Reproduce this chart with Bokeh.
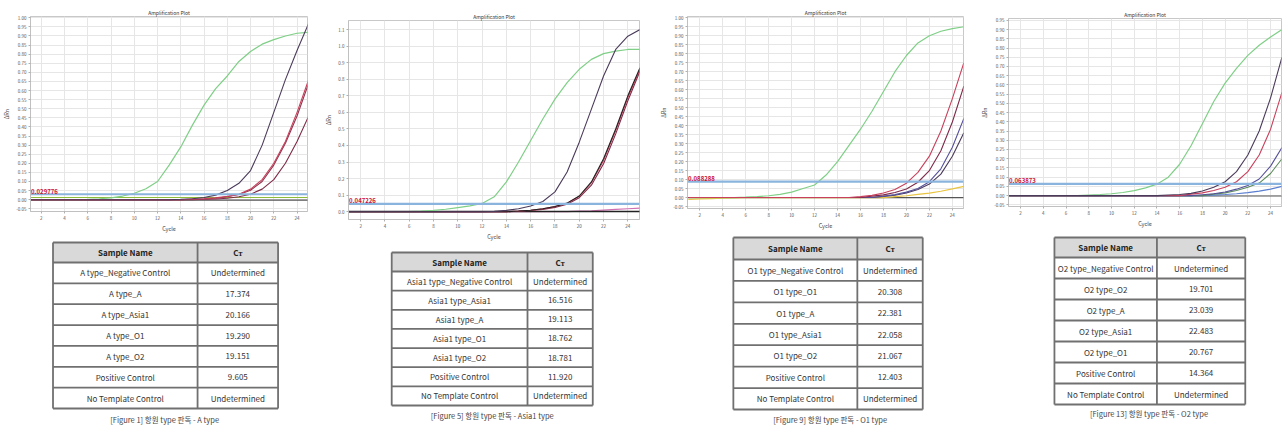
from bokeh.plotting import figure
from bokeh.layouts import row, column
from bokeh.models import Range1d, FixedTicker, PrintfTickFormatter
from bokeh.embed import file_html
from bokeh.resources import INLINE
from bokeh.core.properties import value

FONT = "Noto Sans CJK KR"

cycles = [1, 2, 3, 4, 5, 6, 7, 8, 9, 10, 11, 12, 13, 14, 15, 16, 17, 18, 19, 20, 21, 22, 23, 24, 25]
x_ticks = [2, 4, 6, 8, 10, 12, 14, 16, 18, 20, 22, 24]
y_ticks_a = [-0.05, 0.0, 0.05, 0.1, 0.15, 0.2, 0.25, 0.3, 0.35, 0.4, 0.45, 0.5, 0.55, 0.6, 0.65, 0.7, 0.75, 0.8, 0.85, 0.9, 0.95, 1.0]
y_ticks_asia1 = [0.0, 0.1, 0.2, 0.3, 0.4, 0.5, 0.6, 0.7, 0.8, 0.9, 1.0, 1.1]
y_ticks_o2 = [-0.05, 0.0, 0.05, 0.1, 0.15, 0.2, 0.25, 0.3, 0.35, 0.4, 0.45, 0.5, 0.55, 0.6, 0.65, 0.7, 0.75, 0.8, 0.85, 0.9, 0.95]

# ---------------- Panel 1: A type ----------------
a_pc    = [0.0, 0.0, 0.0, 0.0, 0.0, 0.002, 0.005, 0.010, 0.020, 0.035, 0.060, 0.100, 0.190, 0.290, 0.410, 0.520, 0.610, 0.680, 0.760, 0.815, 0.855, 0.880, 0.900, 0.915, 0.920]
a_A     = [0.0, 0.0, 0.0, 0.0, 0.0, 0.0, 0.0, 0.0, 0.0, 0.0, 0.0, 0.0, 0.0, 0.002, 0.005, 0.012, 0.025, 0.050, 0.090, 0.160, 0.300, 0.480, 0.660, 0.820, 0.970]
a_O2    = [0.0, 0.0, 0.0, 0.0, 0.0, 0.0, 0.0, 0.0, 0.0, 0.0, 0.0, 0.0, 0.0, 0.0, 0.003, 0.005, 0.010, 0.018, 0.030, 0.058, 0.110, 0.200, 0.320, 0.480, 0.660]
a_O1    = [0.0, 0.0, 0.0, 0.0, 0.0, 0.0, 0.0, 0.0, 0.0, 0.0, 0.0, 0.0, 0.0, 0.0, 0.002, 0.004, 0.008, 0.016, 0.028, 0.052, 0.100, 0.190, 0.310, 0.460, 0.640]
a_Asia1 = [0.0, 0.0, 0.0, 0.0, 0.0, 0.0, 0.0, 0.0, 0.0, 0.0, 0.0, 0.0, 0.0, 0.0, 0.0, 0.002, 0.004, 0.008, 0.016, 0.030, 0.058, 0.110, 0.200, 0.320, 0.460]
a_NC    = [0.012, 0.012, 0.012, 0.012, 0.012, 0.012, 0.012, 0.012, 0.012, 0.012, 0.012, 0.012, 0.012, 0.012, 0.012, 0.012, 0.012, 0.012, 0.012, 0.012, 0.012, 0.012, 0.012, 0.012, 0.012]
a_NTC   = [-0.002, -0.002, -0.002, -0.002, -0.002, -0.002, -0.002, -0.002, -0.002, -0.002, -0.002, -0.002, -0.002, -0.002, -0.002, -0.002, -0.002, -0.002, -0.002, -0.002, -0.002, -0.002, -0.002, -0.002, -0.002]
a_threshold = 0.029776
a_names = ["A type_Negative Control", "A type_A", "A type_Asia1", "A type_O1", "A type_O2", "Positive Control", "No Template Control"]
a_ct = ["Undetermined", "17.374", "20.166", "19.290", "19.151", "9.605", "Undetermined"]

# ---------------- Panel 2: Asia1 type ----------------
s_pc    = [0.0, 0.0, 0.0, 0.0, 0.0, 0.0, 0.003, 0.008, 0.015, 0.025, 0.035, 0.050, 0.090, 0.180, 0.300, 0.430, 0.560, 0.680, 0.780, 0.860, 0.920, 0.955, 0.970, 0.980, 0.980]
s_Asia1 = [0.0, 0.0, 0.0, 0.0, 0.0, 0.0, 0.0, 0.0, 0.0, 0.0, 0.0, 0.0, 0.002, 0.008, 0.018, 0.035, 0.062, 0.120, 0.240, 0.420, 0.620, 0.820, 0.980, 1.060, 1.100]
s_O1    = [0.0, 0.0, 0.0, 0.0, 0.0, 0.0, 0.0, 0.0, 0.0, 0.0, 0.0, 0.0, 0.0, 0.0, 0.004, 0.009, 0.018, 0.032, 0.052, 0.095, 0.180, 0.320, 0.500, 0.700, 0.870]
s_O2    = [0.0, 0.0, 0.0, 0.0, 0.0, 0.0, 0.0, 0.0, 0.0, 0.0, 0.0, 0.0, 0.0, 0.0, 0.004, 0.009, 0.017, 0.031, 0.051, 0.093, 0.175, 0.310, 0.490, 0.690, 0.860]
s_A     = [0.0, 0.0, 0.0, 0.0, 0.0, 0.0, 0.0, 0.0, 0.0, 0.0, 0.0, 0.0, 0.0, 0.0, 0.003, 0.007, 0.014, 0.026, 0.045, 0.085, 0.160, 0.290, 0.470, 0.670, 0.850]
s_NC    = [0.0, 0.0, 0.0, 0.0, 0.0, 0.0, 0.0, 0.0, 0.0, 0.0, 0.0, 0.0, 0.0, 0.0, 0.0, 0.0, 0.0, 0.0, 0.0, 0.003, 0.006, 0.010, 0.014, 0.018, 0.022]
s_NTC   = [0.001, 0.001, 0.001, 0.001, 0.001, 0.001, 0.001, 0.001, 0.001, 0.001, 0.001, 0.001, 0.001, 0.001, 0.001, 0.001, 0.001, 0.001, 0.001, 0.001, 0.001, 0.001, 0.001, 0.001, 0.001]
s_threshold = 0.047226
s_names = ["Asia1 type_Negative Control", "Asia1 type_Asia1", "Asia1 type_A", "Asia1 type_O1", "Asia1 type_O2", "Positive Control", "No Template Control"]
s_ct = ["Undetermined", "16.516", "19.113", "18.762", "18.781", "11.920", "Undetermined"]

# ---------------- Panel 3: O1 type ----------------
o1_pc    = [0.0, 0.0, 0.0, 0.0, 0.0, 0.002, 0.005, 0.010, 0.018, 0.030, 0.050, 0.070, 0.125, 0.200, 0.290, 0.380, 0.480, 0.590, 0.700, 0.790, 0.860, 0.900, 0.925, 0.940, 0.950]
o1_O1    = [0.0, 0.0, 0.0, 0.0, 0.0, 0.0, 0.0, 0.0, 0.0, 0.0, 0.0, 0.0, 0.0, 0.0, 0.0, 0.005, 0.012, 0.025, 0.045, 0.080, 0.140, 0.230, 0.370, 0.550, 0.750]
o1_O2    = [0.0, 0.0, 0.0, 0.0, 0.0, 0.0, 0.0, 0.0, 0.0, 0.0, 0.0, 0.0, 0.0, 0.0, 0.0, 0.0, 0.008, 0.015, 0.028, 0.048, 0.085, 0.150, 0.260, 0.420, 0.620]
o1_Asia1 = [0.0, 0.0, 0.0, 0.0, 0.0, 0.0, 0.0, 0.0, 0.0, 0.0, 0.0, 0.0, 0.0, 0.0, 0.0, 0.0, 0.0, 0.008, 0.016, 0.030, 0.050, 0.088, 0.160, 0.280, 0.440]
o1_A     = [0.0, 0.0, 0.0, 0.0, 0.0, 0.0, 0.0, 0.0, 0.0, 0.0, 0.0, 0.0, 0.0, 0.0, 0.0, 0.0, 0.0, 0.006, 0.013, 0.025, 0.045, 0.075, 0.130, 0.230, 0.360]
o1_NC    = [-0.010, -0.008, -0.006, -0.004, -0.002, 0.0, 0.0, 0.0, 0.0, 0.0, 0.0, 0.0, 0.0, 0.0, 0.0, 0.0, 0.0, 0.0, 0.005, 0.010, 0.018, 0.025, 0.035, 0.048, 0.062]
o1_NTC   = [0.0, 0.0, 0.0, 0.0, 0.0, 0.0, 0.0, 0.0, 0.0, 0.0, 0.0, 0.0, 0.0, 0.0, 0.0, 0.0, 0.0, 0.0, 0.0, 0.0, 0.0, 0.0, 0.0, 0.0, 0.0]
o1_threshold = 0.088288
o1_names = ["O1 type_Negative Control", "O1 type_O1", "O1 type_A", "O1 type_Asia1", "O1 type_O2", "Positive Control", "No Template Control"]
o1_ct = ["Undetermined", "20.308", "22.381", "22.058", "21.067", "12.403", "Undetermined"]

# ---------------- Panel 4: O2 type ----------------
o2_pc    = [0.0, 0.0, 0.0, 0.0, 0.0, 0.0, 0.0, 0.003, 0.006, 0.010, 0.017, 0.027, 0.042, 0.062, 0.100, 0.170, 0.270, 0.390, 0.510, 0.610, 0.690, 0.760, 0.815, 0.860, 0.900]
o2_O2    = [0.0, 0.0, 0.0, 0.0, 0.0, 0.0, 0.0, 0.0, 0.0, 0.0, 0.0, 0.0, 0.0, 0.0, 0.003, 0.006, 0.012, 0.025, 0.045, 0.075, 0.130, 0.220, 0.350, 0.530, 0.750]
o2_O1    = [0.0, 0.0, 0.0, 0.0, 0.0, 0.0, 0.0, 0.0, 0.0, 0.0, 0.0, 0.0, 0.0, 0.0, 0.0, 0.0, 0.008, 0.015, 0.028, 0.045, 0.075, 0.130, 0.220, 0.360, 0.560]
o2_Asia1 = [0.0, 0.0, 0.0, 0.0, 0.0, 0.0, 0.0, 0.0, 0.0, 0.0, 0.0, 0.0, 0.0, 0.0, 0.0, 0.0, 0.0, 0.005, 0.010, 0.020, 0.035, 0.055, 0.090, 0.160, 0.260]
o2_A     = [0.0, 0.0, 0.0, 0.0, 0.0, 0.0, 0.0, 0.0, 0.0, 0.0, 0.0, 0.0, 0.0, 0.0, 0.0, 0.0, 0.0, 0.0, 0.008, 0.015, 0.028, 0.045, 0.068, 0.120, 0.200]
o2_NC    = [0.0, 0.0, 0.0, 0.0, 0.0, 0.0, 0.0, 0.0, 0.0, 0.0, 0.0, 0.0, 0.0, 0.0, 0.0, 0.0, 0.0, 0.0, 0.003, 0.006, 0.010, 0.016, 0.024, 0.035, 0.050]
o2_NTC   = [-0.002, -0.002, -0.002, -0.002, -0.002, -0.002, -0.002, -0.002, -0.002, -0.002, -0.002, -0.002, -0.002, -0.002, -0.002, -0.002, -0.002, -0.002, -0.002, -0.002, -0.002, -0.002, -0.002, -0.002, -0.002]
o2_threshold = 0.063873
o2_names = ["O2 type_Negative Control", "O2 type_O2", "O2 type_A", "O2 type_Asia1", "O2 type_O1", "Positive Control", "No Template Control"]
o2_ct = ["Undetermined", "19.701", "23.039", "22.483", "20.767", "14.364", "Undetermined"]

captions = ["[Figure 1] 항원 type 판독 - A type", "[Figure 5] 항원 type 판독 - Asia1 type",
            "[Figure 9] 항원 type 판독 - O1 type", "[Figure 13] 항원 type 판독 - O2 type"]

GREEN = "#7fcf86"
DARK = "#4b3b5b"
RED = "#c8405c"
DRED = "#7e2a48"
BLUEP = "#55509a"
NTC_C = "#555555"
THR_C = "#8ab4dd"


def make_chart(W, H, borders, xr, yr, yticks, yfmt, series, thr, thr_label):
    L, R, T, B = borders
    p = figure(width=W, height=H, x_range=Range1d(*xr), y_range=Range1d(*yr),
               toolbar_location=None, output_backend="svg", title="Amplification Plot",
               min_border_left=L, min_border_right=R, min_border_top=T, min_border_bottom=B)
    p.title.align = "center"
    p.title.text_font = FONT
    p.title.text_font_size = "5px"
    p.title.text_font_style = "normal"
    p.title.text_color = "#333333"
    p.title.standoff = 2
    for ys, col, lw in series:
        p.line(cycles, ys, line_color=col, line_width=lw)
    p.line([xr[0], xr[1]], [thr, thr], line_color=THR_C, line_width=2.2)
    p.text(x=[xr[0] + 0.05], y=[thr], text=[thr_label], text_color="#cc1136",
           text_font=value(FONT), text_font_size="6px", text_font_style="bold",
           text_baseline="bottom", text_align="left", y_offset=-0.5)
    p.xaxis.ticker = FixedTicker(ticks=x_ticks)
    p.yaxis.ticker = FixedTicker(ticks=yticks)
    p.yaxis.formatter = PrintfTickFormatter(format=yfmt)
    p.xgrid.ticker = FixedTicker(ticks=x_ticks)
    p.ygrid.ticker = FixedTicker(ticks=yticks)
    p.grid.grid_line_color = "#e6e6e6"
    p.xaxis.axis_label = "Cycle"
    p.yaxis.axis_label = "ΔRn"
    for ax in (p.xaxis, p.yaxis):
        ax.major_label_text_font = FONT
        ax.major_label_text_font_size = "4.5px"
        ax.major_label_text_color = "#555555"
        ax.axis_label_text_font = FONT
        ax.axis_label_text_font_size = "5.5px"
        ax.axis_label_text_font_style = "normal"
        ax.axis_label_text_color = "#444444"
        ax.axis_label_standoff = 2
        ax.major_label_standoff = 2
        ax.major_tick_out = 2
        ax.major_tick_in = 0
        ax.minor_tick_out = 0
        ax.minor_tick_in = 0
        ax.axis_line_color = "#c0c0c0"
        ax.major_tick_line_color = "#b0b0b0"
    p.outline_line_color = "#c8c8c8"
    return p


def make_table(W, top, names, cts, caption, geom):
    x0, x1, xd, yt, hh, rh, capx, capy = geom
    p = figure(width=W, height=430 - top, x_range=Range1d(0, W), y_range=Range1d(430, top),
               toolbar_location=None, output_backend="svg", x_axis_type=None, y_axis_type=None,
               min_border=0)
    p.grid.visible = False
    p.outline_line_color = None
    n = len(names)
    yb = yt + hh + n * rh
    p.quad(left=[x0], right=[x1], top=[yt], bottom=[yt + hh], fill_color="#d9d9d9", line_color=None)
    ys = [yt, yt + hh] + [yt + hh + (i + 1) * rh for i in range(n)]
    p.segment(x0=[x0] * len(ys), x1=[x1] * len(ys), y0=ys, y1=ys, line_color="#707070", line_width=1.8)
    p.segment(x0=[x0, xd, x1], x1=[x0, xd, x1], y0=[yt] * 3, y1=[yb] * 3, line_color="#707070", line_width=1.8)
    p.text(x=[(x0 + xd) / 2, (xd + x1) / 2], y=[yt + hh / 2] * 2, text=["Sample Name", "Cᴛ"],
           text_font=value(FONT), text_font_size="8px", text_font_style="bold",
           text_align="center", text_baseline="middle", text_color="#222222")
    cy = [yt + hh + (i + 0.5) * rh for i in range(n)]
    p.text(x=[(x0 + xd) / 2] * n, y=cy, text=names, text_font=value(FONT), text_font_size="8px",
           text_align="center", text_baseline="middle", text_color="#333333")
    p.text(x=[(xd + x1) / 2] * n, y=cy, text=cts, text_font=value(FONT), text_font_size="8px",
           text_align="center", text_baseline="middle", text_color="#333333")
    p.text(x=[capx], y=[capy], text=[caption], text_font=value(FONT), text_font_size="7.5px",
           text_align="center", text_baseline="middle", text_color="#444444")
    return p


c1 = make_chart(320, 235, (25, 13, 16, 17), (1.07, 24.9), (-0.065, 1.007), y_ticks_a, "%.2f",
                [(a_NTC, NTC_C, 1.2), (a_NC, "#8dbb3c", 1.2), (a_pc, GREEN, 1.2), (a_Asia1, DRED, 1.1),
                 (a_O1, "#8e3550", 1.1), (a_O2, RED, 1.1), (a_A, DARK, 1.1)],
                a_threshold, "0.029776")
c2 = make_chart(330, 243, (28, 11, 20, 20), (1.0, 24.96), (-0.047, 1.155), y_ticks_asia1, "%.1f",
                [(s_NC, "#d070b0", 1.2), (s_NTC, "#222222", 1.5), (s_pc, GREEN, 1.2), (s_A, DRED, 1.1),
                 (s_O2, RED, 1.1), (s_O1, "#222222", 1.1), (s_Asia1, DARK, 1.1)],
                s_threshold, "0.047226")
c3 = make_chart(325, 232, (37, 12, 16, 19), (0.93, 24.97), (-0.061, 1.007), y_ticks_a, "%.2f",
                [(o1_NTC, NTC_C, 1.2), (o1_NC, "#e8c440", 1.2), (o1_pc, GREEN, 1.2), (o1_A, DARK, 1.1),
                 (o1_Asia1, BLUEP, 1.1), (o1_O2, DRED, 1.1), (o1_O1, RED, 1.1)],
                o1_threshold, "0.088288")
c4 = make_chart(309, 230, (33, 3, 18, 17), (0.94, 24.96), (-0.059, 0.96), y_ticks_o2, "%.2f",
                [(o2_NTC, NTC_C, 1.2), (o2_NC, "#5a7fd0", 1.2), (o2_pc, GREEN, 1.2), (o2_A, "#5b8a5b", 1.1),
                 (o2_Asia1, BLUEP, 1.1), (o2_O1, RED, 1.1), (o2_O2, DARK, 1.1)],
                o2_threshold, "0.063873")

t1 = make_table(320, 235, a_names, a_ct, captions[0], (26, 286, 193, 242, 20, 20.86, 155, 419))
t2 = make_table(330, 243, s_names, s_ct, captions[1], (49, 277, 203, 252, 19, 19.14, 163, 415))
t3 = make_table(325, 232, o1_names, o1_ct, captions[2], (54, 277, 200, 237, 22, 21.43, 168, 419))
t4 = make_table(309, 230, o2_names, o2_ct, captions[3], (52, 268, 168, 237, 20, 21.0, 159, 413))

layout = row(column(c1, t1, spacing=0), column(c2, t2, spacing=0), column(c3, t3, spacing=0),
             column(c4, t4, spacing=0), spacing=0)

open("out.html", "w").write(file_html(layout, INLINE))
